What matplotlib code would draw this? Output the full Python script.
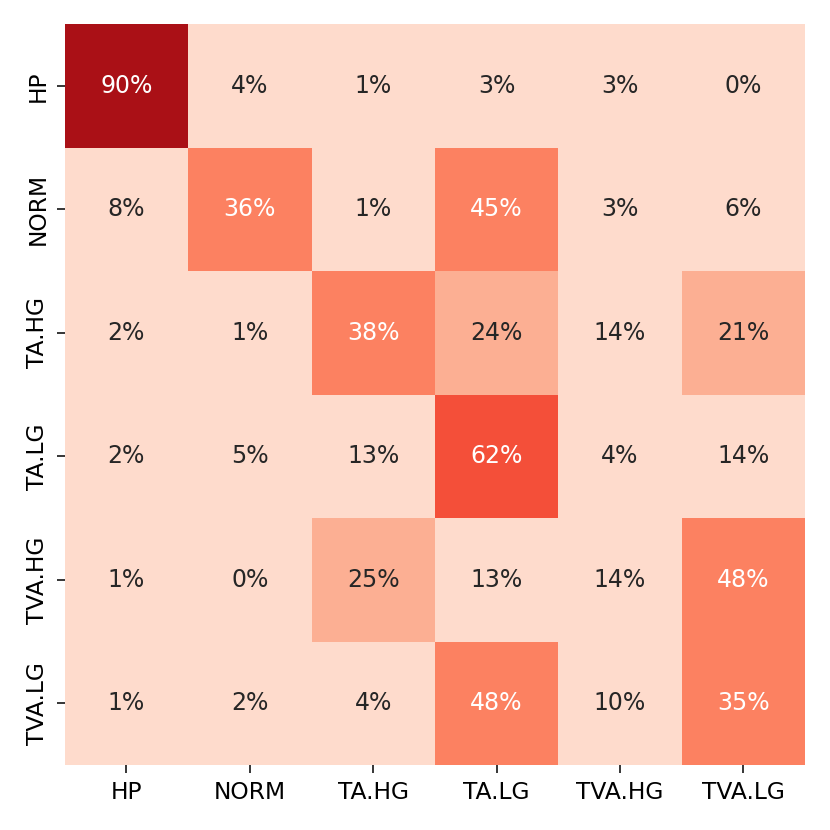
import numpy as np
import matplotlib
matplotlib.use('Agg')
import matplotlib.pyplot as plt
import seaborn as sns

labels = ['HP', 'NORM', 'TA.HG', 'TA.LG', 'TVA.HG', 'TVA.LG']
hp = [0.90, 0.04, 0.01, 0.03, 0.03, 0.00]
norm = [0.08, 0.36, 0.01, 0.45, 0.03, 0.06]
ta_hg = [0.02, 0.01, 0.38, 0.24, 0.14, 0.21]
ta_lg = [0.02, 0.05, 0.13, 0.62, 0.04, 0.14]
tva_hg = [0.01, 0.00, 0.25, 0.13, 0.14, 0.48]
tva_lg = [0.01, 0.02, 0.04, 0.48, 0.10, 0.35]

cm = np.array([hp, norm, ta_hg, ta_lg, tva_hg, tva_lg])

fig = plt.figure(figsize=(8.3, 8.3), dpi=100)
ax = fig.add_axes([0.078, 0.078, 0.892, 0.893])
sns.heatmap(cm, cmap=sns.color_palette('Reds'), vmin=0, vmax=1,
            annot=True, fmt='.0%', cbar=False, annot_kws={'size': 17},
            xticklabels=labels, yticklabels=labels, ax=ax)
ax.tick_params(labelsize=16.8, length=5.5, width=1.1, pad=5.5)
plt.setp(ax.get_yticklabels(), rotation=90, va='center')
fig.savefig('out.png')
